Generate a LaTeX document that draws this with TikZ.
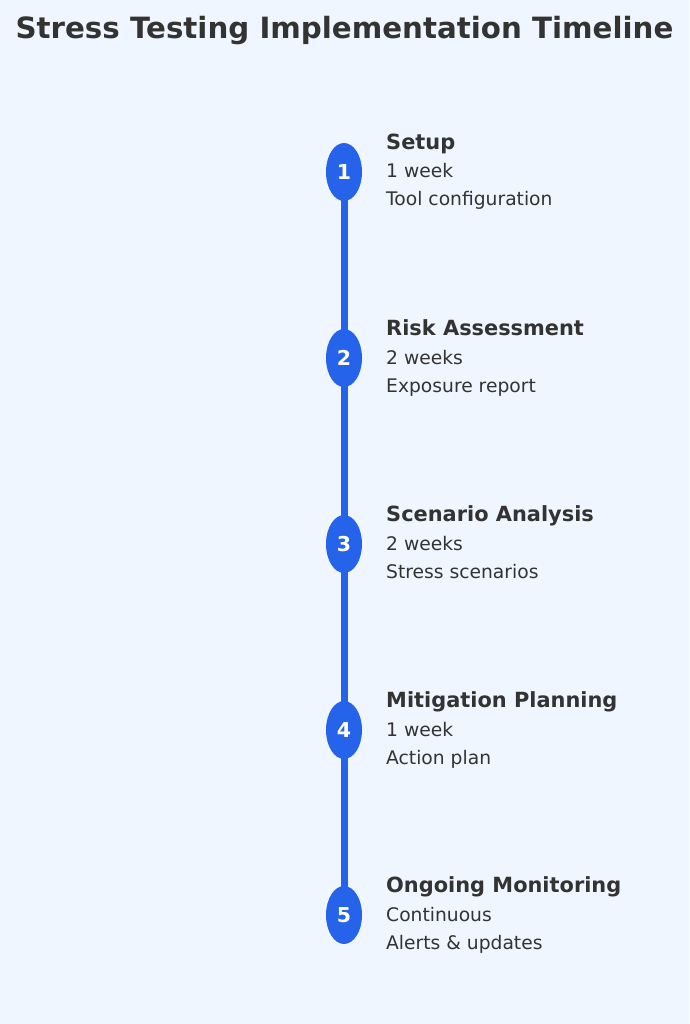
\documentclass[tikz,border=0pt]{standalone}
\usepackage{fontspec}
\setmainfont{DejaVu Sans}
\definecolor{bg}{HTML}{EFF6FF}
\definecolor{blueA}{HTML}{2563EB}
\definecolor{txt}{HTML}{333333}
\begin{document}
\begin{tikzpicture}[x=1pt,y=-1pt,
  dot/.style={ellipse,fill=blueA,minimum width=36pt,minimum height=58pt,inner sep=0pt,text=white,font=\fontsize{20.5}{24}\selectfont\bfseries},
  head/.style={anchor=base west,inner sep=0pt,text=txt,font=\fontsize{20.9}{24}\selectfont\bfseries},
  body/.style={anchor=base west,inner sep=0pt,text=txt,font=\fontsize{18.7}{22}\selectfont}]
\usetikzlibrary{shapes.geometric}
\fill[bg] (0,0) rectangle (689,1024);
\useasboundingbox (0,0) rectangle (689,1024);
\node[anchor=base,inner sep=0pt,text=txt,font=\fontsize{29.3}{34}\selectfont\bfseries] (title) at (344.5,38.5) {Stress Testing Implementation Timeline};
\coordinate (top) at (344,172);
\coordinate (bot) at (344,915);
\draw[blueA,line width=7pt] (top) -- (bot);
\foreach \i/\y/\a/\b/\c in {1/172/Setup/1 week/Tool configuration,
  2/358/Risk Assessment/2 weeks/Exposure report,
  3/544/Scenario Analysis/2 weeks/Stress scenarios,
  4/730/Mitigation Planning/1 week/Action plan,
  5/915/Ongoing Monitoring/Continuous/Alerts \& updates}{
  \node[dot] (d\i) at (344,\y) {\i};
  \node[head] (h\i) at (386,\y-22.5) {\a};
  \node[body] (s\i) at (386,\y+6) {\b};
  \node[body] (t\i) at (386,\y+34) {\c};
}
\end{tikzpicture}
\end{document}
